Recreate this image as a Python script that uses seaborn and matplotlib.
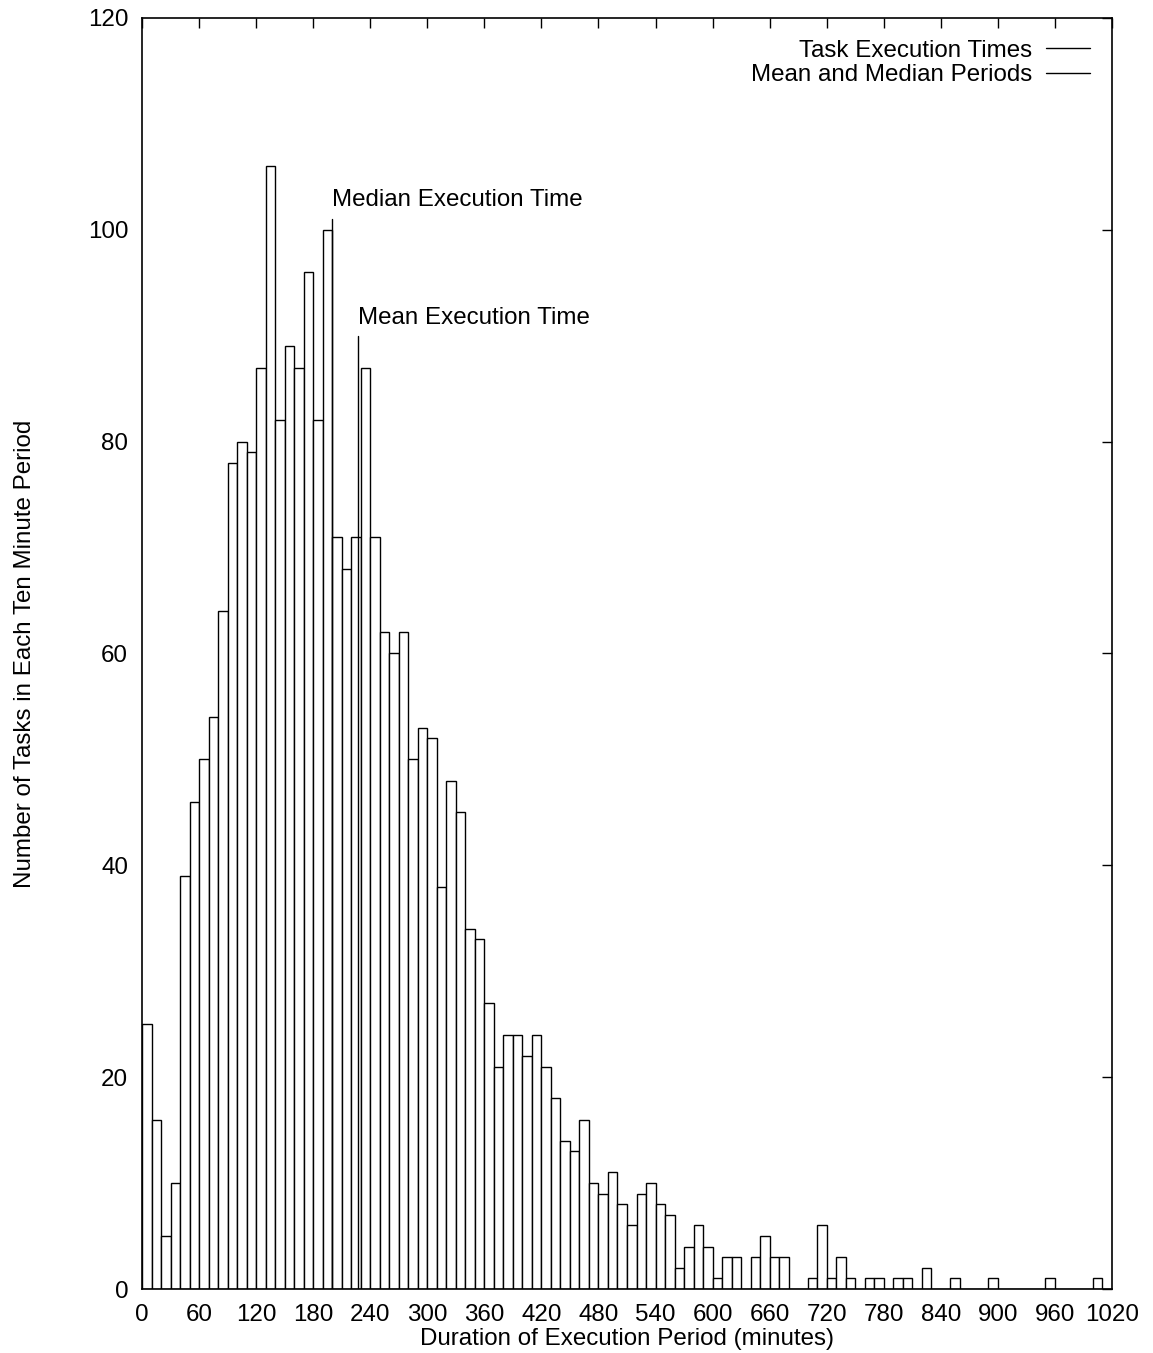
import numpy as np
import pandas as pd
import matplotlib
matplotlib.use("Agg")
import matplotlib.pyplot as plt
from matplotlib.lines import Line2D
import seaborn as sns

# ---- data (10-minute bins, left edges in minutes) ----
bin_starts = list(range(0, 1020, 10))
counts = [
    25, 16, 5, 10, 39, 46, 50, 54, 64, 78,          # 0-90
    80, 79, 87, 106, 82, 89, 87, 96, 82, 100,       # 100-190
    71, 68, 71, 87, 71, 62, 60, 62, 50, 53,         # 200-290
    52, 38, 48, 45, 34, 33, 27, 21, 24, 24,         # 300-390
    22, 24, 21, 18, 14, 13, 16, 10, 9, 11,          # 400-490
    8, 6, 9, 10, 8, 7, 2, 4, 6, 4,                  # 500-590
    1, 3, 3, 0, 3, 5, 3, 3, 0, 0,                   # 600-690
    1, 6, 1, 3, 1, 0, 1, 1, 0, 1,                   # 700-790
    1, 0, 2, 0, 0, 1, 0, 0, 0, 1,                   # 800-890
    0, 0, 0, 0, 0, 1, 0, 0, 0, 0,                   # 900-990
    1, 0,                                            # 1000-1010
]
median_time = 200
median_height = 101
mean_time = 227
mean_height = 90
x_ticks = list(range(0, 1021, 60))
y_ticks = list(range(0, 121, 20))

df = pd.DataFrame({"start": bin_starts, "count": counts})
df["center"] = df["start"] + 5

sns.set_style("white")
plt.rcParams["font.family"] = ["Liberation Sans", "DejaVu Sans"]
plt.rcParams["text.color"] = "black"
plt.rcParams["axes.labelcolor"] = "black"
plt.rcParams["xtick.color"] = "black"
plt.rcParams["ytick.color"] = "black"

FS = 17.4
W, H = 1153, 1353
fig = plt.figure(figsize=(W / 100, H / 100), dpi=100)
ax = fig.add_axes([142 / W, 1 - 1289 / H, (1112 - 142) / W, (1289 - 18) / H])

sns.histplot(data=df, x="center", weights="count", binwidth=10, binrange=(0, 1020),
             color="white", edgecolor="black", linewidth=1.0, alpha=1.0,
             ax=ax, legend=False)

# mean and median markers
ax.plot([median_time, median_time], [0, median_height], color="black", lw=1.0)
ax.plot([mean_time, mean_time], [0, mean_height], color="black", lw=1.0)
ax.text(median_time, 102.8, "Median Execution Time", ha="left", va="center",
        fontsize=FS, color="black")
ax.text(mean_time, 91.7, "Mean Execution Time", ha="left", va="center",
        fontsize=FS, color="black")

ax.set_xlim(0, 1020)
ax.set_ylim(0, 120)
ax.set_xticks(x_ticks)
ax.set_yticks(y_ticks)
ax.tick_params(axis="both", which="major", direction="in", length=7, width=1,
               top=True, right=True, labelsize=FS, color="black", labelcolor="black")
ax.tick_params(axis="x", pad=10.5)
ax.tick_params(axis="y", pad=10)
for s in ax.spines.values():
    s.set_visible(True)
    s.set_color("black")
    s.set_linewidth(1.2)

ax.set_xlabel("Duration of Execution Period (minutes)", fontsize=FS, labelpad=1.5,
              color="black")
ax.set_ylabel("Number of Tasks in Each Ten Minute Period", fontsize=FS, labelpad=37.5,
              color="black")

handles = [Line2D([0], [0], color="black", lw=1.0), Line2D([0], [0], color="black", lw=1.0)]
leg = ax.legend(handles, ["Task Execution Times", "Mean and Median Periods"],
                loc="upper right", frameon=False, markerfirst=False,
                fontsize=FS, handlelength=1.85, handletextpad=0.55,
                labelspacing=0.1, borderaxespad=0.5)
for t in leg.get_texts():
    t.set_ha("right")
    t.set_color("black")

fig.savefig("out.png", dpi=100, facecolor="white")
